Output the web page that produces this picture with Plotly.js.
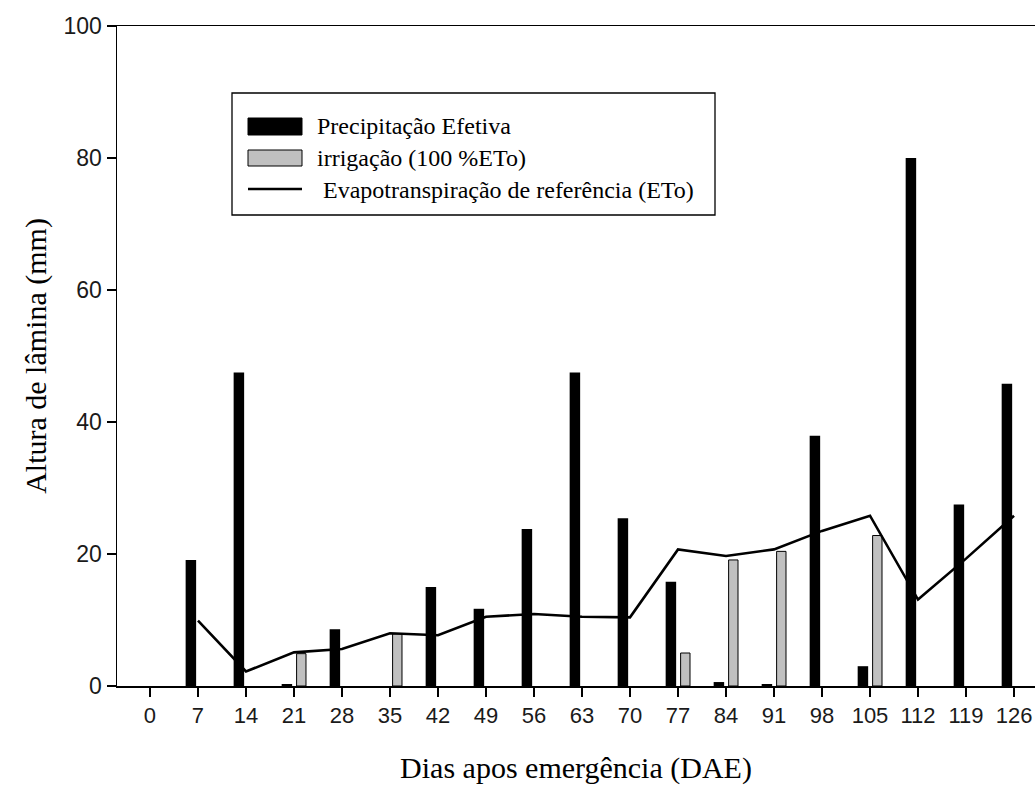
<!DOCTYPE html>
<html>
<head>
<meta charset="utf-8">
<script src="https://cdn.plot.ly/plotly-3.0.1.min.js"></script>
<style>html,body{margin:0;padding:0;background:#fff;}#chart{width:1035px;height:791px;}</style>
</head>
<body>
<div id="chart"></div>
<script>
// Data (null = no bar drawn)
const dae = [0, 7, 14, 21, 28, 35, 42, 49, 56, 63, 70, 77, 84, 91, 98, 105, 112, 119, 126];
const precipitacao = [null, 19.1, 47.5, 0.3, 8.6, null, 15.0, 11.7, 23.8, 47.5, 25.4, 15.8, 0.6, 0.3, 37.9, 3.0, 80.0, 27.5, 45.8];
const irrigacao = [null, null, null, 4.9, null, 7.9, null, null, null, null, null, 5.0, 19.1, 20.4, null, 22.8, null, null, null];
const eto = [null, 9.9, 2.2, 5.1, 5.6, 8.0, 7.7, 10.5, 10.9, 10.5, 10.4, 20.7, 19.7, 20.7, 23.5, 25.8, 13.1, 19.3, 25.8];
const tickLabels = dae.map(String);
const yTicks = [0, 20, 40, 60, 80, 100];
const legendLabels = ["Precipitação Efetiva", "irrigação (100 %ETo)", " Evapotranspiração de referência (ETo)"];

// Layout geometry (pixels)
const W = 1035, H = 791;
const L = 117, R = 0, T = 26, B = 105;
const pw = W - L - R, ph = H - T - B;
const px = v => (v - L) / pw;
const py = v => (H - B - v) / ph;

const serif = "Liberation Serif, Times New Roman, serif";
const sans = "Liberation Sans, Arial, sans-serif";

const traces = [
  {
    type: "bar", x: dae, y: precipitacao, name: legendLabels[0],
    width: 1.53, offset: -1.80,
    marker: {color: "#000000", line: {color: "#000000", width: 0}},
    showlegend: false, hoverinfo: "x+y"
  },
  {
    type: "bar", x: dae, y: irrigacao, name: legendLabels[1],
    width: 1.37, offset: 0.38,
    marker: {color: "#c0c0c0", line: {color: "#000000", width: 1}},
    showlegend: false, hoverinfo: "x+y"
  },
  {
    type: "scatter", mode: "lines", x: dae, y: eto, name: legendLabels[2],
    line: {color: "#000000", width: 2.6},
    connectgaps: false, showlegend: false, hoverinfo: "x+y"
  }
];

// Custom legend box (matching the reference's wide swatches)
const shapes = [
  {type: "rect", xref: "paper", yref: "paper", x0: px(232), x1: px(715), y0: py(93), y1: py(215),
   line: {color: "#000", width: 1.3}, fillcolor: "#fff", layer: "above"},
  {type: "rect", xref: "paper", yref: "paper", x0: px(248), x1: px(302), y0: py(118), y1: py(135),
   line: {color: "#000", width: 1}, fillcolor: "#000", layer: "above"},
  {type: "rect", xref: "paper", yref: "paper", x0: px(248), x1: px(302), y0: py(150), y1: py(166),
   line: {color: "#000", width: 1}, fillcolor: "#c0c0c0", layer: "above"},
  {type: "line", xref: "paper", yref: "paper", x0: px(248), x1: px(302), y0: py(189), y1: py(189),
   line: {color: "#000", width: 2.6}, layer: "above"}
];
const legendY = [126, 158, 190];
const annotations = legendLabels.map((t, i) => ({
  xref: "paper", yref: "paper", x: px(315), y: py(legendY[i]),
  xanchor: "left", yanchor: "middle", text: t, showarrow: false,
  font: {family: serif, size: 24, color: "#000"}
}));

const layout = {
  width: W, height: H,
  margin: {l: L, r: R, t: T, b: B, pad: 0},
  paper_bgcolor: "#fff", plot_bgcolor: "#fff",
  showlegend: false,
  barmode: "overlay",
  xaxis: {
    range: [-4.81, 129.06],
    tickmode: "array", tickvals: dae, ticktext: tickLabels,
    ticks: "outside", ticklen: 9, tickwidth: 1.3, tickcolor: "#000",
    showline: true, linecolor: "#000", linewidth: 1.5, mirror: true,
    showgrid: false, zeroline: false,
    ticklabeloverflow: "allow",
    tickfont: {family: sans, size: 22, color: "#1a1a1a"},
    title: {text: "Dias apos emergência (DAE)", font: {family: serif, size: 30, color: "#000"}, standoff: 30},
    automargin: false
  },
  yaxis: {
    range: [0, 100],
    tickmode: "array", tickvals: yTicks, ticktext: yTicks.map(String),
    ticks: "outside", ticklen: 9, tickwidth: 1.3, tickcolor: "#000",
    showline: true, linecolor: "#000", linewidth: 1.5, mirror: false,
    showgrid: false, zeroline: false,
    tickfont: {family: sans, size: 23, color: "#1a1a1a"},
    title: {text: "Altura de lâmina (mm)", font: {family: serif, size: 30, color: "#000"}, standoff: 8},
    automargin: false
  },
  shapes: shapes,
  annotations: annotations
};

Plotly.newPlot("chart", traces, layout, {displayModeBar: false, staticPlot: true});
</script>
</body>
</html>
